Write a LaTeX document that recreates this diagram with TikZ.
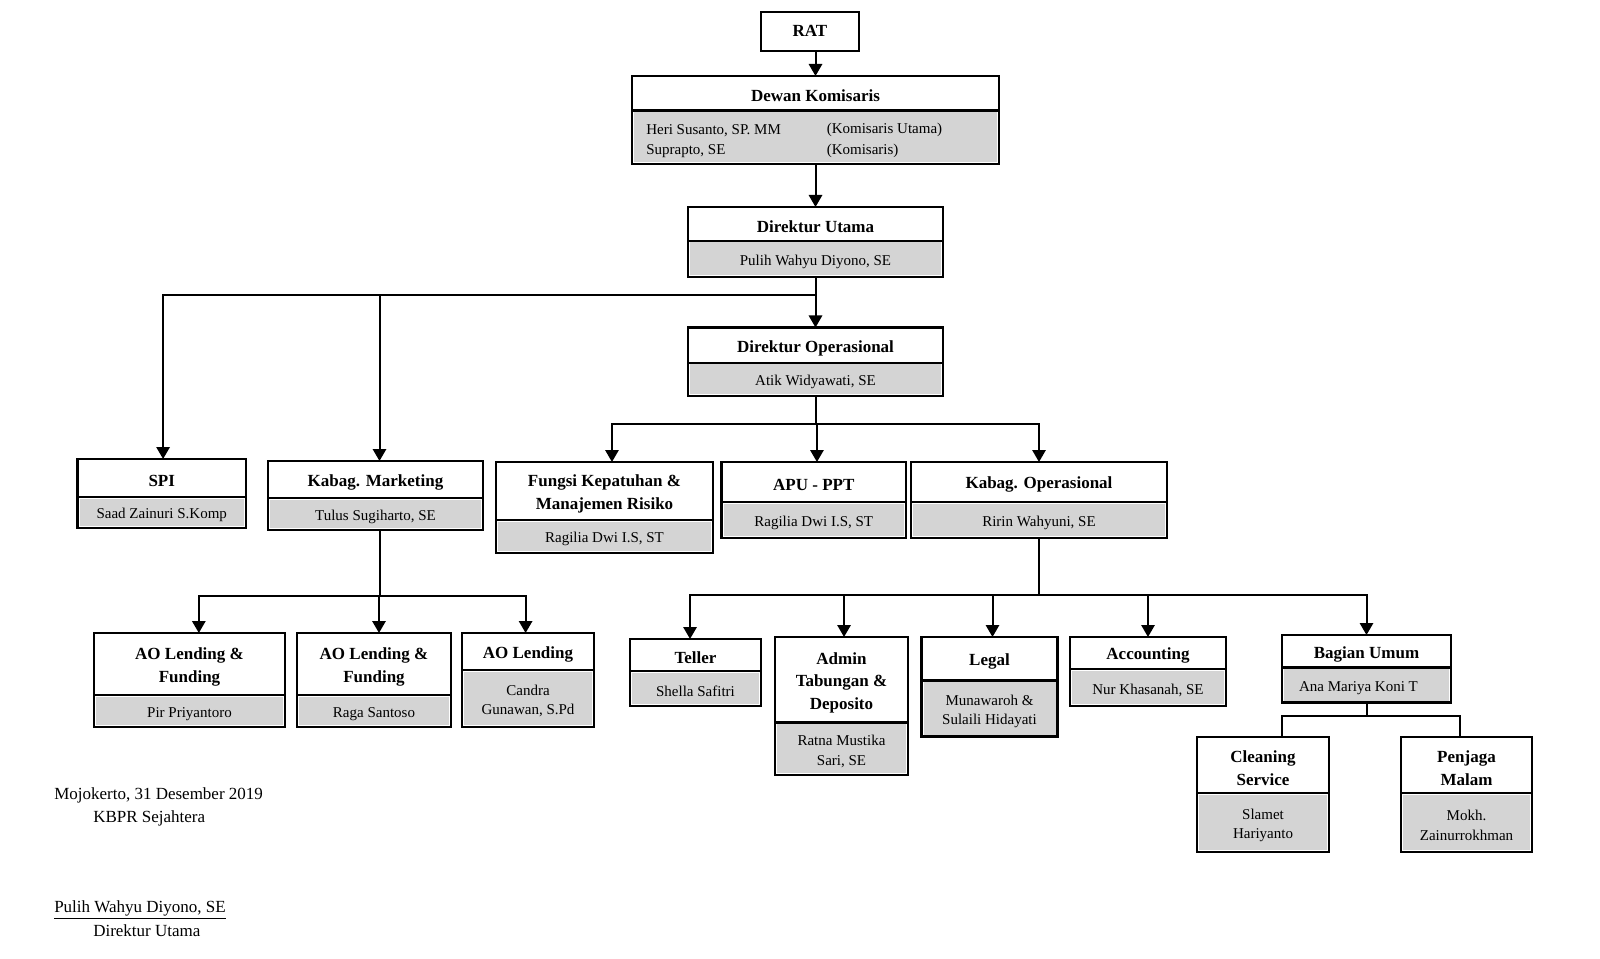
\documentclass[tikz,border=0pt]{standalone}
\usepackage{fontspec}
\setmainfont{Liberation Serif}
\usetikzlibrary{arrows.meta}
\definecolor{boxgray}{RGB}{212,212,212}
\tikzset{
  boxframe/.style={draw=black, line width=1.8pt, inner sep=0pt, outer sep=0pt},
  divider/.style={draw=black, line width=1.6pt},
  titletxt/.style={font=\bfseries\fontsize{12.75}{16.9}\selectfont, align=center, inner sep=0pt, yshift=-2.2pt},
  bodytxt/.style={font=\fontsize{11.25}{14.6}\selectfont, align=center, inner sep=0pt, yshift=-2pt},
  foottxt/.style={font=\fontsize{12.75}{15}\selectfont, inner sep=0pt, anchor=west},
  arr/.style={line width=1.5pt, -{Triangle[width=10pt,length=9pt]}},
  conn/.style={line width=1.5pt}
}
% name, x1, y1, x2, y2, ydiv, title, body
\newcommand{\orgbox}[8]{%
  \pgfmathsetmacro{\bw}{(#4-#2)*0.75}%
  \pgfmathsetmacro{\bh}{(#5-#3)*0.75}%
  \fill[boxgray] ({#2+2},{#6+1.5}) rectangle ({#4-2},{#5-2});
  \node[boxframe, minimum width=\bw pt, minimum height=\bh pt, anchor=north west] (#1) at (#2,#3) {};
  \draw[divider] (#2,#6) -- (#4,#6);
  \node[titletxt] at ({(#2+#4)/2},{(#3+#6)/2}) {#7};
  \node[bodytxt] at ({(#2+#4)/2},{(#6+#5)/2}) {#8};
}
\begin{document}
\begin{tikzpicture}[x=0.75pt,y=-0.75pt]
\useasboundingbox (0,0) rectangle (1600,959);

% RAT
\node[boxframe, minimum width=73.5pt, minimum height=29.25pt, anchor=north west] (RAT) at (761,12) {};
\node[titletxt] at (810,27.5) {RAT};

% Dewan Komisaris
\orgbox{Dewan}{632}{76}{999}{164}{110.5}{Dewan Komisaris}{}
\node[bodytxt, anchor=west] at (646,127.7) {Heri Susanto, SP. MM};
\node[bodytxt, anchor=west] at (826.5,127.7) {(Komisaris Utama)};
\node[bodytxt, anchor=west] at (646,148.3) {Suprapto, SE};
\node[bodytxt, anchor=west] at (826.5,148.3) {(Komisaris)};

\orgbox{DirUt}{688}{207}{943}{277}{241}{Direktur Utama}{Pulih Wahyu Diyono, SE}
\orgbox{DirOps}{688}{327.5}{943}{396}{363}{Direktur Operasional}{Atik Widyawati, SE}

\orgbox{SPI}{77.5}{459}{246}{528}{497}{SPI}{Saad Zainuri S.Komp}
\orgbox{KabMkt}{268}{461}{483}{530}{498}{Kabag. Marketing}{Tulus Sugiharto, SE}
\orgbox{Fungsi}{496}{462}{713}{553}{520}{Fungsi Kepatuhan \&\\Manajemen Risiko}{Ragilia Dwi I.S, ST}
\orgbox{APU}{721.5}{462}{906}{538}{502}{APU - PPT}{Ragilia Dwi I.S, ST}
\orgbox{KabOps}{911}{462}{1167}{538}{502}{Kabag. Operasional}{Ririn Wahyuni, SE}

\orgbox{AOa}{94}{633}{285}{727}{695}{AO Lending \&\\Funding}{Pir Priyantoro}
\orgbox{AOb}{297}{633}{451}{727}{695}{AO Lending \&\\Funding}{Raga Santoso}
\orgbox{AOc}{462}{633}{594}{727}{670}{AO Lending}{Candra\\Gunawan, S.Pd}

\orgbox{Teller}{630}{639}{761}{706}{671}{Teller}{Shella Safitri}
\orgbox{Admin}{775}{637}{908}{775}{722.5}{Admin\\Tabungan \&\\Deposito}{Ratna Mustika\\Sari, SE}
\orgbox{Legal}{921.5}{637}{1057.5}{736.5}{680.5}{Legal}{Munawaroh \&\\Sulaili Hidayati}
\orgbox{Acc}{1070}{637}{1226}{706}{669}{Accounting}{Nur Khasanah, SE}
\orgbox{BagUmum}{1282}{635}{1451}{702.5}{667.5}{Bagian Umum}{\hspace*{-12pt}Ana Mariya Koni T}
\orgbox{Cleaning}{1197}{737}{1329}{852}{793}{Cleaning\\Service}{Slamet\\Hariyanto}
\orgbox{Penjaga}{1401}{737}{1532}{852}{793}{Penjaga\\Malam}{Mokh.\\Zainurrokhman}

% connectors
\draw[arr] (RAT.south -| Dewan.north) -- (Dewan.north);
\draw[arr] (Dewan.south) -- (DirUt.north);
\draw[arr] (DirUt.south) -- (DirOps.north);
\coordinate (j1) at (DirUt.south |- 0,295);
\draw[arr] (j1) -| ([xshift=1pt]SPI.north);
\draw[arr] (j1) -| ([xshift=3pt]KabMkt.north);

\coordinate (j2) at (DirOps.south |- 0,423.5);
\draw[conn] (DirOps.south) -- (j2);
\draw[arr] (j2) -| ([xshift=5.6pt]Fungsi.north);
\draw[arr] (j2) -| ([xshift=2.4pt]APU.north);
\draw[arr] (j2) -| (KabOps.north);

\coordinate (m1) at ([xshift=3pt]KabMkt.south);
\coordinate (j3) at (m1 |- 0,596);
\draw[conn] (m1) -- (j3);
\draw[arr] (j3) -| ([xshift=7pt]AOa.north);
\draw[arr] (j3) -| ([xshift=3.75pt]AOb.north);
\draw[arr] (j3) -| ([xshift=-1.8pt]AOc.north);

\coordinate (j4) at (KabOps.south |- 0,595);
\draw[conn] (KabOps.south) -- (j4);
\draw[arr] (j4) -| ([xshift=-4.1pt]Teller.north);
\draw[arr] (j4) -| ([xshift=1.9pt]Admin.north);
\draw[arr] (j4) -| ([xshift=2.25pt]Legal.north);
\draw[arr] (j4) -| (Acc.north);
\draw[arr] (j4) -| (BagUmum.north);

\coordinate (j5) at (BagUmum.south |- 0,716);
\draw[conn] (BagUmum.south) -- (j5);
\draw[conn] (j5) -| ([xshift=14.25pt]Cleaning.north);
\draw[conn] (j5) -| ([xshift=-4.9pt]Penjaga.north);

% footer
\node[foottxt] (f1) at (54,795) {Mojokerto, 31 Desember 2019};
\node[foottxt] (f2) at (93,818) {KBPR Sejahtera};
\node[foottxt] (f3) at (54,909.5) {\underline{Pulih Wahyu Diyono, SE}};
\node[foottxt] (f4) at (93,930.5) {Direktur Utama};
\end{tikzpicture}
\end{document}
